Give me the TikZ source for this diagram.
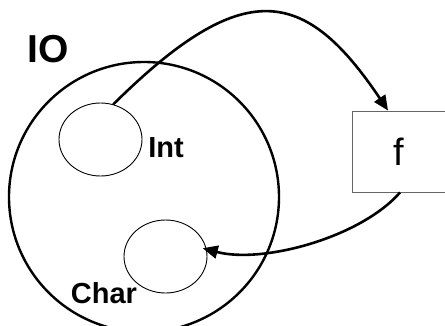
\documentclass[tikz,border=0pt]{standalone}
\usepackage{fontspec}
\setmainfont{Liberation Sans}
\usetikzlibrary{shapes.geometric,arrows.meta}
\begin{document}
\begin{tikzpicture}[x=1pt,y=-1pt,
  setring/.style={draw,circle,line width=2.4pt,minimum size=270pt,inner sep=0pt},
  typeset/.style={draw,ellipse,line width=0.9pt,minimum width=83pt,minimum height=73pt,inner sep=0pt},
  funbox/.style={draw=black!60,line width=0.9pt,minimum width=120pt,minimum height=81pt,inner sep=0pt},
  lbl/.style={font=\bfseries\fontsize{29}{29}\selectfont,inner sep=0pt},
  maparrow/.style={line width=2.6pt,-{Triangle[length=15pt,width=13pt]}}]
\useasboundingbox (0,0) rectangle (445,325);
% the IO set and its two inner types
\node[setring] (io) at (144,197) {};
\node[typeset] (int) at (100.5,139.5) {};
\node[typeset] (char) at (165.5,256.5) {};
\node[lbl,font=\bfseries\fontsize{39}{39}\selectfont] (iolbl) at (48,49) {IO};
\node[lbl] (intlbl) at (166,148) {Int};
\node[lbl] (charlbl) at (104,293) {Char};
% the function box
\node[funbox] (fbox) at (412.5,151.5) {};
\node[font=\fontsize{38}{38}\selectfont,inner sep=0pt] (flbl) at (399,152) {f};
% mapping arrows
\draw[maparrow] (int.70) .. controls (244,-25) and (305,-13) .. ([xshift=36pt]fbox.north west);
\draw[maparrow,shorten >=-4pt] ([xshift=48pt]fbox.south west) .. controls (360,238) and (262,264) .. (char.10);
\end{tikzpicture}
\end{document}
